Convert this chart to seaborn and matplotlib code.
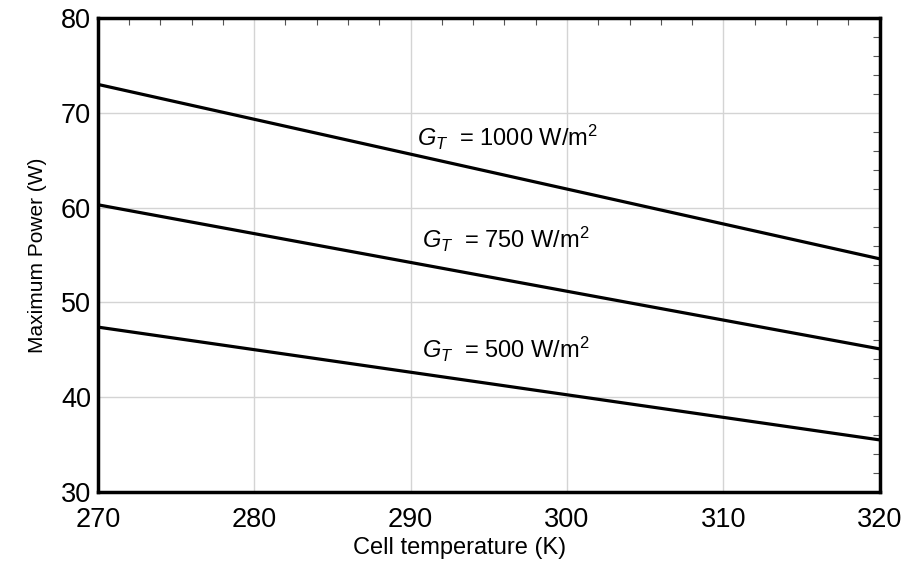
import numpy as np
import pandas as pd
import matplotlib
matplotlib.use("Agg")
import matplotlib.pyplot as plt
import seaborn as sns
from matplotlib.ticker import MultipleLocator

# Cell temperature (K) at the two ends of each straight line
TEMPS = [270, 320]
# Maximum power (W) per irradiance level
P_1000 = [73.0, 54.6]
P_750 = [60.3, 45.1]
P_500 = [47.4, 35.5]
LEVELS = ["1000", "750", "500"]
LABEL_POS = [(290.4, 67.4), (290.7, 56.6), (290.7, 45.0)]

sns.set_style("white")
plt.rcParams['font.family'] = ['Liberation Sans', 'DejaVu Sans']
plt.rcParams['mathtext.fontset'] = 'custom'
plt.rcParams['mathtext.it'] = 'Liberation Sans:italic'
plt.rcParams['mathtext.rm'] = 'Liberation Sans'
plt.rcParams['text.color'] = 'black'
plt.rcParams['axes.labelcolor'] = 'black'

df = pd.DataFrame({
    "T": TEMPS * 3,
    "P": P_1000 + P_750 + P_500,
    "G": [l for l in LEVELS for _ in TEMPS],
})

fig = plt.figure(figsize=(9.06, 5.63), dpi=100)
ax = fig.add_axes([0.108, 0.126, 0.863, 0.842])

sns.lineplot(data=df, x="T", y="P", units="G", estimator=None,
             color="black", linewidth=2.3, ax=ax, legend=False)

ax.set_xlim(270, 320)
ax.set_ylim(30, 80)
ax.xaxis.set_major_locator(MultipleLocator(10))
ax.xaxis.set_minor_locator(MultipleLocator(2))
ax.yaxis.set_major_locator(MultipleLocator(10))
ax.yaxis.set_minor_locator(MultipleLocator(2))
ax.grid(True, which="major", color="#d4d4d4", linewidth=1.0)

ax.tick_params(which="both", direction="in", top=True, right=True, width=0.8)
ax.tick_params(which="major", length=0, labelsize=19.5, labelcolor="black")
ax.tick_params(which="minor", length=5, color="#555555")
ax.tick_params(axis="x", which="major", pad=11)
ax.tick_params(axis="y", which="major", pad=5)
for s in ax.spines.values():
    s.set_color("black")
    s.set_linewidth(2.5)

ax.set_xlabel("Cell temperature (K)", fontsize=17, labelpad=3)
ax.set_ylabel("Maximum Power (W)", fontsize=15, labelpad=10)
ax.xaxis.set_label_coords(0.462, -0.095)

for lvl, (tx, ty) in zip(LEVELS, LABEL_POS):
    ax.text(tx, ty, r"$G_T$  = " + lvl + r" W/m$^2$", fontsize=17,
            va="center", ha="left")

plt.savefig("out.png", dpi=100)
plt.close()
